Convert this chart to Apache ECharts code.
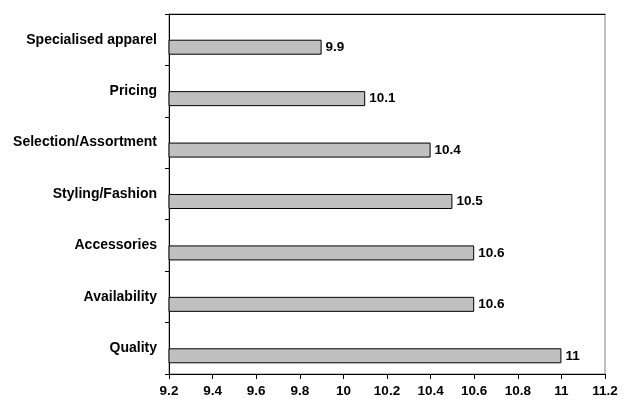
<!DOCTYPE html>
<html>
<head>
<meta charset="utf-8">
<script src="https://cdn.jsdelivr.net/npm/echarts@6/dist/echarts.min.js"></script>
<style>
  html, body { margin: 0; padding: 0; background: #ffffff; }
  #chart { width: 632px; height: 402px; }
</style>
</head>
<body>
<div id="chart"></div>
<script>
// Categories listed top to bottom
const categories = [
  'Specialised apparel',
  'Pricing',
  'Selection/Assortment',
  'Styling/Fashion',
  'Accessories',
  'Availability',
  'Quality'
];
const scores = [9.9, 10.1, 10.4, 10.5, 10.6, 10.6, 11];
const axisMin = 9.2;
const axisMax = 11.2;
const axisStep = 0.2;

const font = '"Liberation Sans", Arial, sans-serif';
const chart = echarts.init(document.getElementById('chart'), null, { renderer: 'canvas' });

chart.setOption({
  animation: false,
  backgroundColor: '#ffffff',
  grid: {
    left: 169, right: 27, top: 14, bottom: 28,
    show: true, borderColor: '#808080', borderWidth: 1, backgroundColor: 'transparent'
  },
  xAxis: [{
    type: 'value',
    min: axisMin, max: axisMax, interval: axisStep,
    axisLine: { show: true, lineStyle: { color: '#000', width: 1 } },
    axisTick: { show: true, length: 5, lineStyle: { color: '#000' } },
    splitLine: { show: false },
    axisLabel: {
      margin: 10, color: '#000', fontFamily: font, fontWeight: 'bold', fontSize: 13.5,
      formatter: v => String(Math.round(v * 10) / 10)
    }
  }, {
    type: 'value', position: 'top',
    min: axisMin, max: axisMax, interval: axisStep,
    axisLine: { show: true, lineStyle: { color: '#000', width: 1 } },
    axisTick: { show: false }, axisLabel: { show: false }, splitLine: { show: false }
  }],
  yAxis: {
    type: 'category',
    data: categories,
    inverse: true,
    axisLine: { show: true, lineStyle: { color: '#000', width: 1 } },
    axisTick: { show: true, length: 4, lineStyle: { color: '#000' } },
    axisLabel: {
      margin: 12, color: '#000', fontFamily: font, fontWeight: 'bold', fontSize: 14
    }
  },
  series: [{
    type: 'bar',
    name: 'spacer',
    data: categories.map(() => '-'),
    barWidth: 15,
    barGap: '0%',
    silent: true
  }, {
    type: 'bar',
    name: 'Score',
    data: scores,
    barWidth: 15,
    barGap: '0%',
    itemStyle: { color: '#c0c0c0', borderColor: '#000', borderWidth: 1 },
    label: {
      show: true, position: 'right', distance: 4,
      color: '#000', fontFamily: font, fontWeight: 'bold', fontSize: 13.5
    }
  }]
});
</script>
</body>
</html>
